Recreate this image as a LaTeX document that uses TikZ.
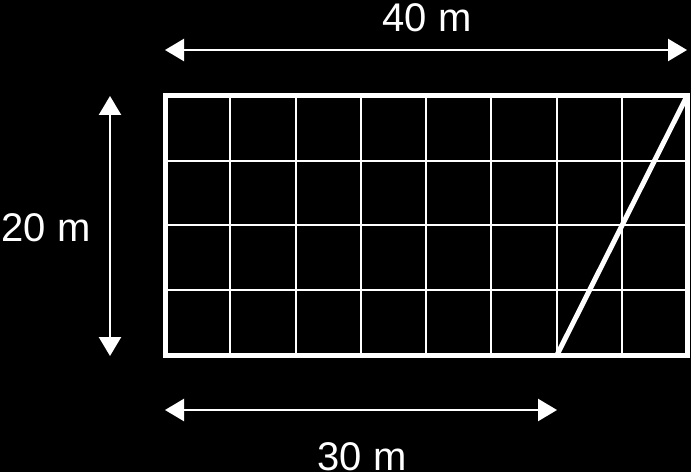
\documentclass[tikz,border=0pt]{standalone}
\usepackage{fontspec}
\setmainfont{Liberation Sans}
\usepackage{tikz}
\usetikzlibrary{arrows.meta}
\usetikzlibrary{positioning}
\tikzset{>={Triangle[length=19pt,width=22pt]}}

\begin{document}
\begin{tikzpicture}[
            x=1pt, y=1pt,
            every node/.style={text=white, inner sep=0pt, font=\fontsize{40}{48}\selectfont},
            dim/.style={<->, white, line width=2.5pt},
            gridline/.style={white, line width=2pt},
            border/.style={white, line width=5pt, line join=miter}
        ]
        \fill[black] (0,0) rectangle (691,472);
        \useasboundingbox (0,0) rectangle (691,472);
        % field corners
        \coordinate (SW) at (165,117);
        \coordinate (NW) at (165,376);
        \coordinate (NE) at (687,376);
        \coordinate (cut) at (557,117);
        % grid
        \foreach \i in {1,...,7}
            \draw[gridline] (165+65.25*\i,117) -- (165+65.25*\i,376);
        \foreach \j in {1,2,3}
            \draw[gridline] (165,117+64.75*\j) -- (687,117+64.75*\j);
        \draw[border] (SW) rectangle (NE);
        \draw[border] (cut) -- (NE);
        % length 40 m
        \coordinate (topL) at (165,422);
        \coordinate (topR) at (687,422);
        \draw[dim] (topL) -- (topR);
        \node (len40) at (427,454.5) {40 m};
        % width 20 m
        \coordinate (leftT) at (110,376);
        \coordinate (leftB) at (110,116);
        \draw[dim] (leftT) -- (leftB);
        \node (wid20) at (46,244) {20 m};
        % base 30 m
        \coordinate (botL) at (165,62);
        \coordinate (botR) at (557,62);
        \draw[dim] (botL) -- (botR);
        \node (len30) at (362,15.5) {30 m};
        \end{tikzpicture}
\end{document}
